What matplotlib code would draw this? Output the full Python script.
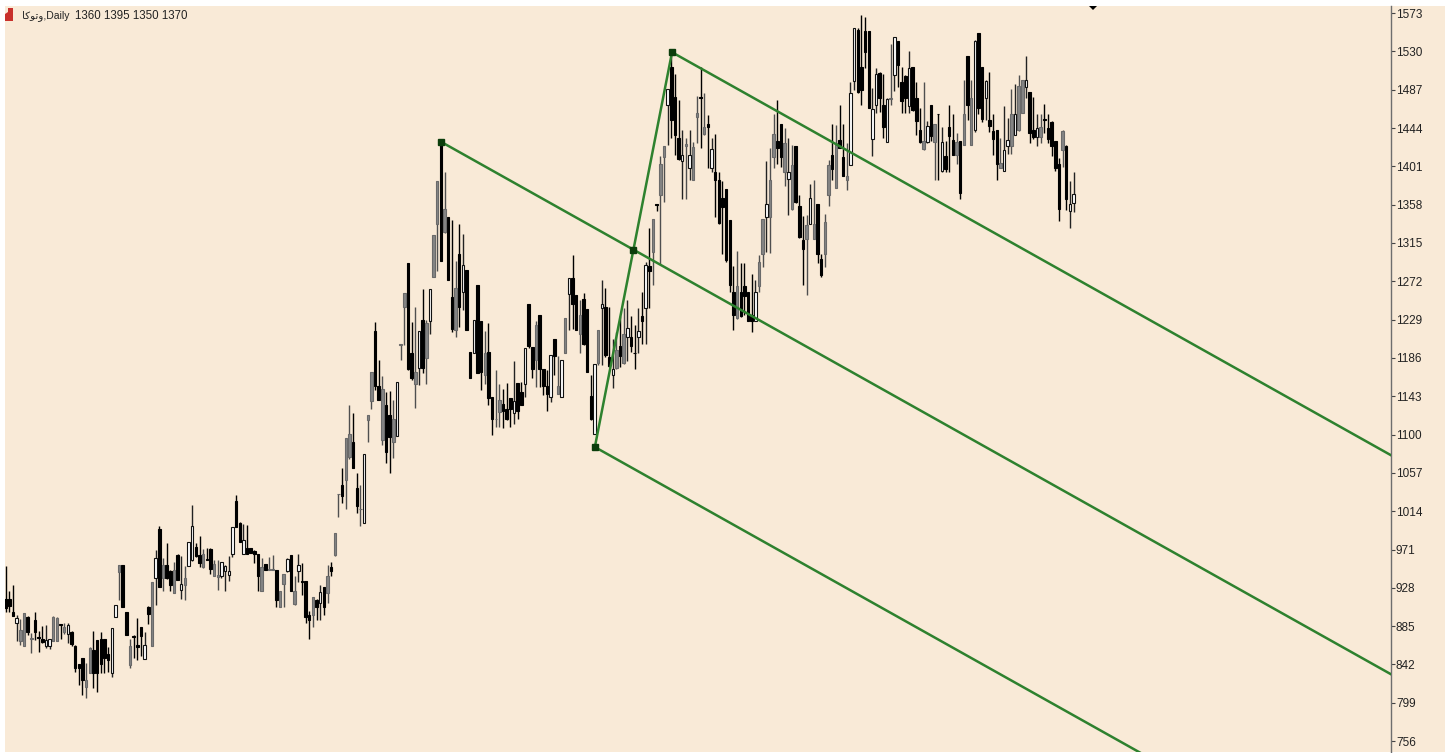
import numpy as np
import matplotlib
matplotlib.use('Agg')
import matplotlib.pyplot as plt
from matplotlib.patches import Rectangle, Polygon

plt.rcParams['font.family'] = ['Liberation Sans', 'DejaVu Sans']

highs = [952,925,931,897,893,900,896,877,901,880,885,886,871,896,895,887,889,888,880,864,843,849,844,862,880,870,879,871,862,883,909,954,954,901,871,875,894,884,879,908,934,971,997,962,978,948,957,966,964,952,980,1021,978,986,972,973,973,959,959,957,954,964,996,1032,1002,1000,998,973,971,966,962,955,963,965,948,924,944,962,965,941,966,956,936,902,918,915,931,929,954,957,989,
1033,1063,1096,1133,1124,1057,1043,1078,1122,1170,1226,1184,1166,1148,1149,1139,1159,1202,1259,1292,1226,1243,1216,1263,1228,1263,1324,1384,1428,1395,1344,1341,1295,1336,1325,1285,1193,1229,1268,1227,1216,1225,1142,1173,1157,1151,1158,1141,1182,1158,1159,1197,1247,1198,1227,1234,1174,1172,1189,1207,1188,1184,1231,1276,1301,1257,1251,1259,1241,1167,1179,1217,1274,1264,1243,1207,1215,1233,1242,1251,
1233,1223,1242,1260,1294,1332,1342,1359,1413,1424,1488,1526,1505,1475,1442,1433,1442,1428,1480,1512,1483,1459,1433,1437,1395,1384,1375,1341,1289,1306,1293,1292,1260,1280,1274,1301,1342,1407,1422,1460,1475,1449,1444,1433,1425,1424,1369,1345,1346,1381,1386,1359,1303,1347,1408,1449,1447,1470,1449,1427,1496,
1556,1556,1571,1568,1553,1489,1511,1507,1505,1478,1538,1546,1542,1512,1503,1530,1512,1496,1466,1496,1452,1470,1448,1460,1445,1429,1470,1460,1438,1429,1498,1525,1498,1543,1551,1513,1498,1507,1460,1442,1433,1469,1455,1488,1493,1503,1498,1525,1484,1479,1460,1460,1471,1460,1452,1429,1410,1442,1425,1384,1395]

body_tops = [915,916,901,894,881,900,895,872,892,873,871,870,871,895,894,887,884,886,879,863,843,849,825,861,858,870,871,871,854,883,909,954,954,901,863,874,864,884,864,906,934,962,994,954,954,947,948,965,932,939,980,997,974,965,966,960,972,955,942,957,953,947,996,1025,1001,982,973,973,969,966,951,955,949,949,948,924,944,960,965,925,954,936,936,897,918,914,923,929,941,951,989,
1033,1043,1096,1101,1092,1040,1017,1078,1122,1170,1216,1155,1151,1133,1122,1118,1159,1202,1259,1292,1192,1170,1216,1228,1225,1263,1324,1384,1428,1353,1344,1254,1265,1303,1290,1285,1193,1229,1268,1227,1191,1193,1142,1118,1139,1134,1129,1141,1138,1158,1148,1197,1247,1198,1223,1234,1174,1154,1189,1207,1154,1184,1231,1276,1276,1257,1234,1252,1241,1143,1179,1217,1246,1243,1187,1174,1195,1199,1213,1220,
1210,1192,1216,1233,1290,1289,1342,1359,1404,1424,1488,1512,1479,1433,1414,1426,1414,1423,1461,1479,1445,1449,1420,1395,1386,1365,1375,1341,1260,1267,1260,1267,1260,1234,1260,1294,1342,1359,1386,1437,1429,1449,1427,1395,1403,1424,1356,1318,1335,1365,1336,1359,1297,1338,1403,1414,1427,1431,1412,1390,1483,
1556,1554,1513,1553,1553,1465,1505,1506,1470,1476,1478,1546,1542,1496,1502,1511,1512,1478,1442,1429,1446,1470,1448,1460,1428,1413,1445,1430,1428,1429,1460,1525,1478,1542,1551,1513,1497,1453,1441,1442,1405,1419,1431,1460,1460,1491,1498,1498,1484,1442,1444,1445,1454,1444,1451,1429,1404,1441,1424,1359,1370]

body_bottoms = [905,908,896,888,868,863,878,871,878,872,867,863,863,868,868,886,879,876,865,838,838,825,817,833,833,833,843,849,847,833,895,946,907,875,841,873,862,874,848,899,863,939,929,939,939,931,922,937,926,931,953,959,964,956,951,959,949,941,940,941,947,942,966,996,980,966,966,967,966,941,924,948,948,948,914,907,932,947,925,910,947,935,895,892,897,907,911,907,922,947,965,
1033,1031,1049,1075,1063,1020,1016,1001,1116,1138,1155,1139,1094,1080,1097,1092,1098,1200,1243,1174,1164,1157,1175,1175,1186,1227,1277,1336,1295,1327,1274,1218,1217,1243,1260,1217,1164,1192,1169,1170,1167,1141,1117,1117,1125,1127,1117,1129,1124,1126,1133,1157,1199,1174,1184,1174,1154,1146,1142,1188,1146,1142,1192,1258,1247,1217,1213,1202,1170,1117,1101,1180,1242,1189,1177,1167,1175,1188,1180,1210,
1199,1191,1209,1227,1242,1284,1305,1358,1369,1412,1470,1453,1436,1409,1407,1424,1399,1386,1456,1478,1437,1445,1399,1386,1337,1355,1296,1268,1234,1231,1233,1256,1227,1227,1227,1267,1303,1344,1344,1411,1422,1412,1395,1387,1353,1361,1322,1308,1319,1336,1319,1303,1279,1303,1369,1398,1377,1421,1390,1386,1402,
1497,1484,1487,1529,1466,1432,1470,1478,1445,1428,1477,1504,1515,1474,1478,1469,1464,1452,1428,1420,1428,1435,1428,1460,1396,1398,1435,1414,1414,1371,1425,1470,1425,1442,1467,1454,1478,1446,1432,1404,1399,1396,1424,1424,1436,1442,1461,1490,1438,1434,1434,1434,1453,1432,1424,1399,1353,1419,1364,1351,1360]

lows = [901,901,896,868,864,863,875,855,870,856,866,860,859,868,868,871,876,866,863,834,819,808,804,833,816,811,833,833,834,828,895,914,906,875,838,849,847,851,848,887,863,909,929,924,938,924,922,937,915,914,952,958,963,951,950,959,944,941,926,939,924,936,963,996,979,966,966,967,956,925,924,948,948,948,907,907,907,946,924,909,935,920,889,871,884,892,892,897,911,941,964,
1008,1023,1017,1073,1063,1012,997,1001,1092,1129,1150,1139,1088,1068,1057,1074,1098,1184,1200,1172,1161,1130,1156,1169,1157,1213,1277,1284,1295,1326,1274,1215,1209,1221,1240,1217,1164,1192,1169,1150,1157,1133,1099,1109,1109,1107,1116,1109,1112,1117,1133,1142,1197,1163,1153,1153,1144,1127,1137,1167,1146,1142,1192,1217,1218,1217,1192,1200,1170,1116,1101,1178,1178,1187,1176,1152,1174,1176,1179,1183,
1193,1174,1192,1202,1202,1242,1268,1351,1291,1361,1425,1433,1414,1408,1364,1364,1386,1386,1427,1421,1436,1399,1395,1344,1336,1303,1294,1260,1217,1230,1232,1234,1227,1215,1227,1260,1288,1305,1304,1399,1404,1400,1379,1346,1352,1360,1321,1268,1257,1336,1319,1293,1277,1288,1357,1386,1377,1421,1390,1374,1402,
1487,1483,1470,1511,1466,1413,1461,1462,1433,1428,1470,1485,1490,1461,1461,1461,1463,1436,1427,1419,1427,1429,1386,1386,1395,1395,1395,1414,1404,1364,1425,1453,1425,1440,1460,1451,1453,1440,1414,1386,1399,1396,1415,1415,1436,1441,1461,1478,1427,1432,1424,1427,1438,1427,1413,1396,1340,1400,1352,1332,1350]

# k = down bar, w = up bar, g = up bar that shows grey in the screenshot
kinds = ("kkkwggkgkk" "kwwggkgwkk" "kkggkkkkkw" "wgkkgkkkwk" "gwkgkkgkwg" "wwkkgkkggw" "wwwkkwkkkk" "gkggkggwkg" "wkkkgkwkgkg"
         "gkggkkgwgg" "kkgkkgwggk" "kgwkgwggkg" "kkgkwkkwkk" "gkkggkkkwk" "kwkkgkkkwk" "gwgwkkgkkk" "wgwkkwgkgw"
         "kkwkwkgkgg" "wkkkwgwggk" "gkwkkkkkkg" "kkkkwggwgg" "kkgwgkkkgw" "gkkggkgkkg" "w"
         "wkkkkwwkkw" "gwkkkwkkkg" "wkgkwkkkgk" "gkgwkkwkkk" "gwwgwggwkk" "wgkkkkkgkww")

price_ticks = [1573,1530,1487,1444,1401,1358,1315,1272,1229,1186,1143,1100,1057,1014,971,928,885,842,799,756]

# pitchfork anchors: bar number, price
fork_bars = [119.0, 182.2, 161.1]
fork_prices = [1428.6, 1529, 1086]
last_bar = 378.8

W, H = 1445, 753
bg = '#F9EAD7'
green = '#2E812E'

highs = np.array(highs)
lows = np.array(lows)
body_tops = np.array(body_tops)
body_bottoms = np.array(body_bottoms)
bars = np.arange(len(highs))

fig = plt.figure(figsize=(W / 100, H / 100), dpi=100, facecolor='white')
fig.patches.append(Rectangle((5 / W, 1 / H), 1 - 5 / W, 1 - 7 / H, transform=fig.transFigure, fc=bg, ec='none', zorder=-5))

ax = fig.add_axes([5 / W, 1 / H, 1386 / W, 746 / H])
ax.patch.set_alpha(0)
ax.set_xlim(-0.19, last_bar)
ax.set_ylim(743.8, 1580.9)

for kind, wick, face, edge in [('k', 'black', 'black', 'black'),
                               ('g', '#4f4f4f', '#858585', '#6a6a6a'),
                               ('w', '#222222', 'white', '#111111')]:
    m = np.array([c == kind for c in kinds])
    ax.vlines(bars[m], lows[m], highs[m], color=wick, lw=1.0, zorder=2)
    ax.bar(bars[m], body_tops[m] - body_bottoms[m], bottom=body_bottoms[m], width=0.68,
           color=face, edgecolor=edge, linewidth=0.8, zorder=3)

# pitchfork
a = np.array([fork_bars[0], fork_prices[0]], float)
b = np.array([fork_bars[1], fork_prices[1]], float)
c = np.array([fork_bars[2], fork_prices[2]], float)
mid = (b + c) / 2
slope = (mid[1] - a[1]) / (mid[0] - a[0])
for p in (a, b, c):
    ax.plot([p[0], last_bar], [p[1], p[1] + slope * (last_bar - p[0])], color=green, lw=1.8, zorder=4)
ax.plot([b[0], c[0]], [b[1], c[1]], color=green, lw=1.8, zorder=4)
ax.plot([a[0], b[0], c[0], mid[0]], [a[1], b[1], c[1], mid[1]], ls='none', marker='s', ms=4.2,
        color='#0B3D0B', mec='#0B3D0B', zorder=5)

ax.yaxis.tick_right()
ax.set_yticks(price_ticks)
ax.set_yticklabels([str(v) for v in price_ticks])
ax.tick_params(axis='y', length=3, width=0.8, color='#444444', labelsize=8.5, labelcolor='#222222', pad=0.5)
ax.set_xticks([])
for s in ['top', 'left', 'bottom']:
    ax.spines[s].set_visible(False)
ax.spines['right'].set_color('#6e6e6e')
ax.spines['right'].set_linewidth(1.0)

# header
fig.patches.append(Polygon([(5 / W, 1 - 21 / H), (13 / W, 1 - 21 / H), (13 / W, 1 - 8 / H), (8 / W, 1 - 8 / H), (8 / W, 1 - 12 / H), (5 / W, 1 - 14 / H)],
                           closed=True, transform=fig.transFigure, fc='#C8302B', ec='none'))
fig.patches.append(Polygon([(1089 / W, 1 - 6 / H), (1097 / W, 1 - 6 / H), (1093 / W, 1 - 10 / H)],
                           closed=True, transform=fig.transFigure, fc='black', ec='none'))
fig.text(22 / W, 1 - 16 / H, '\uFE8E\uFB90\uFEEE\uFE97\uFEED,Daily', fontsize=7.5, color='#222222', va='center', ha='left')
fig.text(75 / W, 1 - 16 / H, '1360 1395 1350 1370', fontsize=8.3, color='#222222', va='center', ha='left')

fig.savefig('out.png', dpi=100, facecolor='white')
